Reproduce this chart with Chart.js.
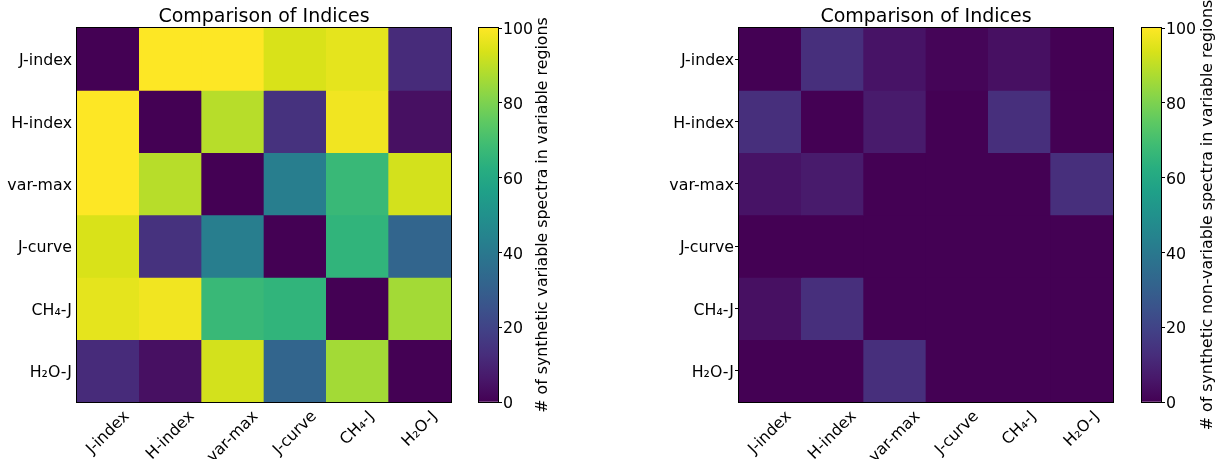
<!DOCTYPE html>
<html>
<head>
<meta charset="utf-8">
<title>Comparison of Indices</title>
<script src="https://cdn.jsdelivr.net/npm/chart.js@4.4.0/dist/chart.umd.min.js"></script>
<style>
    body { margin: 0; background: #fff; width: 1222px; height: 459px; position: relative; overflow: hidden; }
    canvas { position: absolute; top: 0; }
</style>
</head>
<body>
<canvas id="heatVar" width="465" height="459" style="left:0px"></canvas>
<canvas id="barVar" width="100" height="459" style="left:470px"></canvas>
<canvas id="heatNon" width="500" height="459" style="left:620px"></canvas>
<canvas id="barNon" width="92" height="459" style="left:1130px"></canvas>
<script>
// indices compared (rows top to bottom, columns left to right)
var indexLabels = ['J-index', 'H-index', 'var-max', 'J-curve', 'CH₄-J', 'H₂O-J'];

// # of synthetic variable spectra in variable regions
var varJIndex = [0, 100, 100, 94, 96, 12];
var varHIndex = [100, 0, 89, 14, 98, 4];
var varVarMax = [100, 89, 0, 42, 67, 93];
var varJCurve = [94, 14, 42, 0, 65, 32];
var varCH4J   = [96, 98, 67, 65, 0, 86];
var varH2OJ   = [12, 4, 93, 32, 86, 0];

// # of synthetic non-variable spectra in variable regions
var nonJIndex = [0, 13, 5, 1, 4, 0];
var nonHIndex = [13, 0, 7, 0, 13, 0];
var nonVarMax = [5, 7, 0, 0, 0, 13];
var nonJCurve = [0, 0, 0, 0, 0, 0];
var nonCH4J   = [4, 13, 0, 0, 0, 0];
var nonH2OJ   = [0, 0, 13, 0, 0, 0];

var cbarTicks = [0, 20, 40, 60, 80, 100];

var chartTitle = 'Comparison of Indices';
var cbarLabelVar = '# of synthetic variable spectra in variable regions';
var cbarLabelNon = '# of synthetic non-variable spectra in variable regions';

var FONT = '"DejaVu Sans"';
var TICK_SIZE = 15.8;

// viridis colormap stops (every 1/16)
var viridisStops = [
    [68, 1, 84], [72, 24, 106], [71, 45, 123], [66, 64, 134], [59, 82, 139],
    [51, 99, 141], [44, 114, 142], [38, 130, 142], [33, 145, 140], [31, 160, 136],
    [40, 174, 128], [63, 188, 115], [94, 201, 98], [132, 212, 75], [173, 220, 48],
    [216, 226, 25], [253, 231, 37]
];

function viridis(value) {
    var t = Math.max(0, Math.min(1, value / 100)) * 16;
    var i = Math.min(15, Math.floor(t));
    var f = t - i;
    var a = viridisStops[i], b = viridisStops[i + 1];
    var c = [0, 1, 2].map(function (k) { return Math.round(a[k] + (b[k] - a[k]) * f); });
    return 'rgb(' + c.join(',') + ')';
}

var framePlugin = {
    id: 'frame',
    afterDatasetsDraw: function (chart) {
        var a = chart.chartArea, ctx = chart.ctx;
        ctx.save();
        ctx.strokeStyle = '#000';
        ctx.lineWidth = 1;
        ctx.strokeRect(Math.round(a.left) - 0.5, Math.round(a.top) - 0.5,
            Math.round(a.right - a.left) + 1, Math.round(a.bottom - a.top) + 1);
        ctx.restore();
    }
};

// rotated column labels, centred under each tick like matplotlib's rotation=45
var xLabelPlugin = {
    id: 'xLabels',
    afterDraw: function (chart) {
        var scale = chart.scales.x, ctx = chart.ctx;
        ctx.save();
        ctx.font = TICK_SIZE + 'px ' + FONT;
        ctx.fillStyle = '#000';
        ctx.textAlign = 'center';
        ctx.textBaseline = 'middle';
        indexLabels.forEach(function (label, i) {
            var x = scale.getPixelForValue(i);
            var w = ctx.measureText(label).width;
            var side = (w + TICK_SIZE * 1.16) * Math.SQRT1_2;
            var y = chart.chartArea.bottom + 5.6 + side / 2;
            ctx.save();
            ctx.translate(x, y);
            ctx.rotate(-Math.PI / 4);
            ctx.fillText(label, 0, 0);
            ctx.restore();
        });
        ctx.restore();
    }
};

var titlePlugin = {
    id: 'plotTitle',
    afterDraw: function (chart) {
        var a = chart.chartArea, ctx = chart.ctx;
        ctx.save();
        ctx.font = '19px ' + FONT;
        ctx.fillStyle = '#000';
        ctx.textAlign = 'center';
        ctx.textBaseline = 'alphabetic';
        ctx.fillText(chartTitle, (a.left + a.right) / 2, 21.5);
        ctx.restore();
    }
};

function cbarLabelPlugin(text, x) {
    return {
        id: 'cbarLabel',
        afterDraw: function (chart) {
            var a = chart.chartArea, ctx = chart.ctx;
            ctx.save();
            ctx.font = TICK_SIZE + 'px ' + FONT;
            ctx.fillStyle = '#000';
            ctx.textAlign = 'center';
            ctx.textBaseline = 'middle';
            ctx.translate(x, (a.top + a.bottom) / 2);
            ctx.rotate(-Math.PI / 2);
            ctx.fillText(text, 0, 0);
            ctx.restore();
        }
    };
}

function drawHeatmap(canvasId, rows, opts) {
    var datasets = rows.map(function (row, r) {
        return {
            data: row.map(function () { return [r, r + 1]; }),
            backgroundColor: row.map(viridis),
            borderWidth: 0,
            barPercentage: 1,
            categoryPercentage: 1,
            grouped: false
        };
    });

    new Chart(document.getElementById(canvasId), {
        type: 'bar',
        data: { labels: indexLabels, datasets: datasets },
        options: {
            responsive: false,
            animation: false,
            devicePixelRatio: 1,
            layout: { padding: { left: 0, top: 28, right: opts.padRight, bottom: 0 } },
            plugins: { legend: { display: false }, tooltip: { enabled: false } },
            scales: {
                x: {
                    type: 'category',
                    offset: true,
                    z: 1,
                    grid: { offset: false, drawOnChartArea: false, drawTicks: true, tickLength: -5, color: '#000', lineWidth: 1 },
                    border: { display: false },
                    ticks: { display: false },
                    afterFit: function (s) { s.height = 57; }
                },
                y: {
                    type: 'linear',
                    min: 0,
                    max: 6,
                    reverse: true,
                    z: 1,
                    afterBuildTicks: function (s) {
                        s.ticks = indexLabels.map(function (l, i) { return { value: i + 0.5 }; });
                    },
                    ticks: {
                        callback: function (v, i) { return indexLabels[i]; },
                        font: { family: FONT, size: TICK_SIZE },
                        color: '#000',
                        padding: opts.yPad,
                        labelOffset: 2,
                        autoSkip: false
                    },
                    grid: { drawOnChartArea: false, drawTicks: true, tickLength: opts.yTick, color: '#000', lineWidth: 1 },
                    border: { display: false },
                    afterFit: function (s) { s.width = opts.yWidth; }
                }
            }
        },
        plugins: [framePlugin, xLabelPlugin, titlePlugin]
    });
}

function gradientFill(context) {
    var a = context.chart.chartArea;
    if (!a) return null;
    var g = context.chart.ctx.createLinearGradient(0, a.bottom, 0, a.top);
    viridisStops.forEach(function (c, i) {
        g.addColorStop(i / 16, 'rgb(' + c.join(',') + ')');
    });
    return g;
}

function drawColorbar(canvasId, label, padLeft, yWidth, labelX) {
    new Chart(document.getElementById(canvasId), {
        type: 'bar',
        data: {
            labels: [''],
            datasets: [{
                data: [[cbarTicks[0], cbarTicks[cbarTicks.length - 1]]],
                backgroundColor: gradientFill,
                borderWidth: 0,
                barPercentage: 1,
                categoryPercentage: 1
            }]
        },
        options: {
            responsive: false,
            animation: false,
            devicePixelRatio: 1,
            layout: { padding: { left: padLeft, top: 28, right: 0, bottom: 57 } },
            plugins: { legend: { display: false }, tooltip: { enabled: false } },
            scales: {
                x: { display: false },
                y: {
                    position: 'right',
                    min: cbarTicks[0],
                    max: cbarTicks[cbarTicks.length - 1],
                    afterBuildTicks: function (s) {
                        s.ticks = cbarTicks.map(function (v) { return { value: v }; });
                    },
                    ticks: { font: { family: FONT, size: TICK_SIZE }, color: '#000', padding: 1, labelOffset: 2 },
                    grid: { drawOnChartArea: false, drawTicks: true, tickLength: 4, color: '#000', lineWidth: 1 },
                    border: { display: false },
                    afterFit: function (s) { s.width = yWidth; }
                }
            }
        },
        plugins: [framePlugin, cbarLabelPlugin(label, labelX)]
    });
}

drawHeatmap('heatVar', [varJIndex, varHIndex, varVarMax, varJCurve, varCH4J, varH2OJ],
    { padRight: 14, yWidth: 77, yTick: -5, yPad: 10 });
drawColorbar('barVar', cbarLabelVar, 9, 72, 73);

drawHeatmap('heatNon', [nonJIndex, nonHIndex, nonVarMax, nonJCurve, nonCH4J, nonH2OJ],
    { padRight: 7, yWidth: 119, yTick: 4, yPad: 1 });
drawColorbar('barNon', cbarLabelNon, 12, 61, 78);
</script>
</body>
</html>
